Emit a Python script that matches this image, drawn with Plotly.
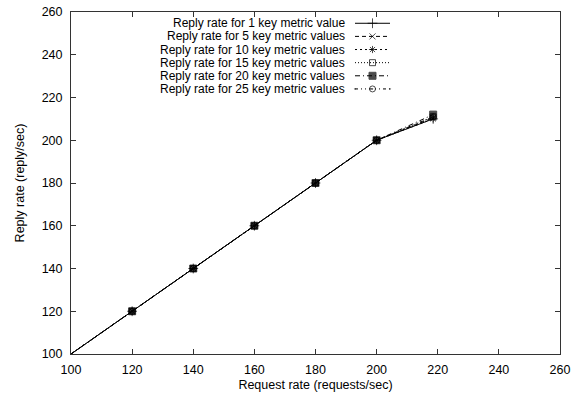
import plotly.graph_objects as go

# ---- data ----
request_rate = [100, 120, 140, 160, 180, 200, 218.5]
reply_1 = [100, 120, 140, 160, 180, 200, 210]
reply_5 = [100, 120, 140, 160, 180, 200, 210.5]
reply_10 = [100, 120, 140, 160, 180, 200, 210]
reply_15 = [100, 120, 140, 160, 180, 200, 211]
reply_20 = [100, 120, 140, 160, 180, 200, 212]
reply_25 = [100, 120, 140, 160, 180, 200, 211]

labels = [
    "Reply rate for 1 key metric value",
    "Reply rate for 5 key metric values",
    "Reply rate for 10 key metric values",
    "Reply rate for 15 key metric values",
    "Reply rate for 20 key metric values",
    "Reply rate for 25 key metric values",
]
series = [reply_1, reply_5, reply_10, reply_15, reply_20, reply_25]
dashes = ["solid", "4px,3px", "2px,3px", "1px,2px", "5px,3px,1px,3px", "3px,3px,1px,3px,1px,3px"]
symbols = ["cross-thin-open", "x-thin-open", "asterisk-open", "square-open", "square", "circle-open-dot"]
sizes = [7, 6, 6, 6, 7, 6]

W, H = 578, 400
ML, MR, MT, MB = 71, 18, 5, 46
FONT = "Liberation Sans, Arial, sans-serif"
FS = 12.5
LEG_FS = 12

fig = go.Figure()

for lab, ys, d, s, sz in zip(labels, series, dashes, symbols, sizes):
    msize = [0] + [sz] * (len(request_rate) - 1)
    fig.add_trace(go.Scatter(
        x=request_rate, y=ys, mode="lines+markers", name=lab, showlegend=False,
        line=dict(color="black", width=1, dash=d),
        marker=dict(symbol=s, size=msize, color="black",
                    line=dict(color="black", width=1)),
    ))

# manual gnuplot-style legend (text right, sample on the right) on pixel-space overlay axes
row_y = [16.5, 29.9, 43.3, 56.7, 70.1, 83.5]
text_right = 347
sample_x0, sample_x1 = 355, 390
for i, (lab, d, s, sz) in enumerate(zip(labels, dashes, symbols, sizes)):
    yy = row_y[i]
    fig.add_trace(go.Scatter(
        x=[sample_x0, (sample_x0 + sample_x1) / 2, sample_x1], y=[yy, yy, yy],
        xaxis="x2", yaxis="y2", mode="lines+markers", showlegend=False, hoverinfo="skip",
        line=dict(color="black", width=1, dash=d),
        marker=dict(symbol=s, size=[0, sz, 0], color="black", line=dict(color="black", width=1)),
    ))
    fig.add_annotation(x=text_right, y=yy, xref="x2", yref="y2", text=lab,
                       showarrow=False, xanchor="right", yanchor="middle",
                       font=dict(family=FONT, size=LEG_FS, color="black"))

axis_common = dict(
    range=[100, 260], dtick=20, ticks="inside", ticklen=5, tickwidth=1, tickcolor="#333",
    showline=True, linecolor="#333", linewidth=1, mirror="ticks", showgrid=False,
    zeroline=False, tickfont=dict(family=FONT, size=FS, color="black"),
    ticklabeloverflow="allow",
)

fig.update_layout(
    width=W, height=H,
    margin=dict(l=ML, r=MR, t=MT, b=MB),
    plot_bgcolor="white", paper_bgcolor="white",
    font=dict(family=FONT, size=FS, color="black"),
    xaxis=dict(**axis_common, ticklabelstandoff=4,
               title=dict(text="Request rate (requests/sec)", standoff=4,
                          font=dict(family=FONT, size=FS, color="black"))),
    yaxis=dict(**axis_common, ticklabelstandoff=5,
               title=dict(text="Reply rate (reply/sec)", standoff=14,
                          font=dict(family=FONT, size=FS, color="black"))),
    xaxis2=dict(range=[ML, W - MR], domain=[0, 1], overlaying="x", visible=False, fixedrange=True),
    yaxis2=dict(range=[H - MB, MT], domain=[0, 1], overlaying="y", visible=False, fixedrange=True),
)

fig.write_html("out.html")
